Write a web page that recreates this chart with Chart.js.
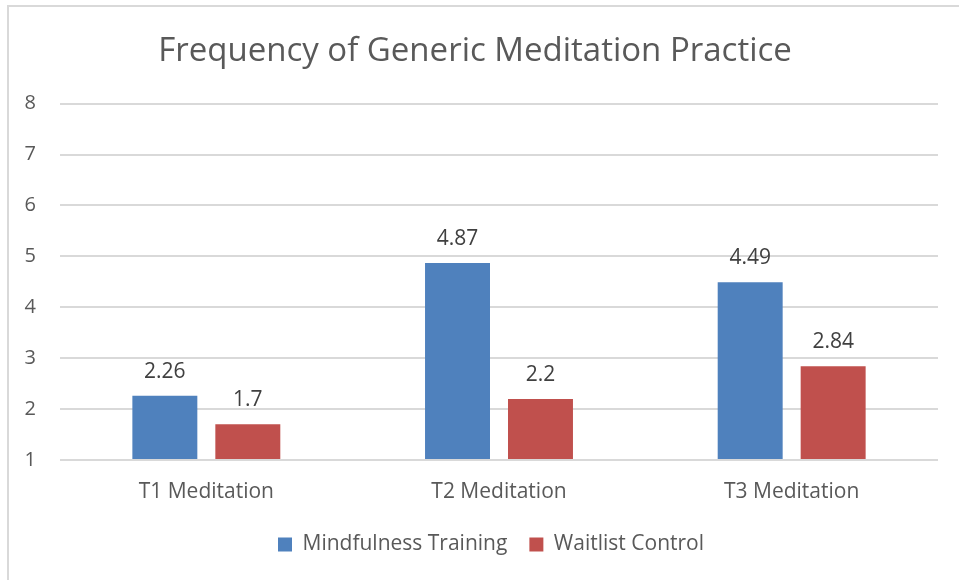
<!DOCTYPE html>
<html><head><meta charset="utf-8">
<script src="https://cdn.jsdelivr.net/npm/chart.js@4"></script>
<style>
html,body{margin:0;padding:0;background:#fff;}
#wrap{position:relative;width:959px;height:580px;overflow:hidden;}
#frame{position:absolute;left:7px;top:5px;width:960px;height:590px;border-top:2px solid #d9d9d9;border-left:2px solid #d9d9d9;box-sizing:border-box;}
canvas{position:absolute;left:0;top:0;}
</style></head>
<body><div id="wrap"><div id="frame"></div><canvas id="c" width="959" height="580"></canvas></div>
<script>
const categories = ["T1 Meditation", "T2 Meditation", "T3 Meditation"];
const mindfulness = [2.26, 4.87, 4.49];
const waitlist = [1.7, 2.2, 2.84];
const seriesNames = ["Mindfulness Training", "Waitlist Control"];
const yTicks = [1, 2, 3, 4, 5, 6, 7, 8];
const titleText = "Frequency of Generic Meditation Practice";

const FONT = "'Open Sans', 'Liberation Sans', sans-serif";
const GRAY = "#595959";

const labelPlugin = {
  id: "valueLabels",
  afterLayout(chart) {
    if (chart.legend) { chart.legend.left += 16; chart.legend.right += 16; }
  },
  afterDatasetsDraw(chart) {
    const ctx = chart.ctx;
    ctx.save();
    ctx.font = "21px " + FONT;
    ctx.fillStyle = "#404040";
    ctx.textAlign = "center";
    ctx.textBaseline = "alphabetic";
    chart.data.datasets.forEach((ds, i) => {
      chart.getDatasetMeta(i).data.forEach((bar, j) => {
        ctx.fillText(String(ds.data[j]), bar.x, bar.y - 18);
      });
    });
    ctx.restore();
  }
};

new Chart(document.getElementById("c"), {
  type: "bar",
  data: {
    labels: categories,
    datasets: [
      { label: seriesNames[0], data: mindfulness, backgroundColor: "#4f81bd", base: 1 },
      { label: seriesNames[1], data: waitlist, backgroundColor: "#c0504d", base: 1 }
    ]
  },
  options: {
    responsive: false,
    animation: false,
    devicePixelRatio: 1,
    categoryPercentage: 0.567,
    barPercentage: 0.783,
    layout: { padding: { left: 12, right: 21, top: 32, bottom: 15 } },
    plugins: {
      title: {
        display: true, text: titleText, color: GRAY,
        font: { family: FONT, size: 33, weight: "normal" },
        padding: { top: 0, bottom: 32 }
      },
      legend: {
        position: "bottom",
        labels: {
          color: GRAY, font: { family: FONT, size: 21 },
          boxWidth: 14, boxHeight: 14, padding: 22, useBorderRadius: false
        }
      },
      tooltip: { enabled: false }
    },
    scales: {
      x: {
        grid: { display: false },
        border: { display: false },
        afterFit(axis) { axis.height = 52; },
        ticks: { color: GRAY, font: { family: FONT, size: 21 }, padding: 11 }
      },
      y: {
        min: yTicks[0], max: yTicks[yTicks.length - 1],
        afterBuildTicks(axis) { axis.ticks = yTicks.map(v => ({ value: v })); },
        afterFit(axis) { axis.width = 48; },
        grid: { color: "#d9d9d9", lineWidth: 2, drawTicks: false },
        border: { display: false },
        ticks: { color: GRAY, font: { family: FONT, size: 20 }, padding: 24 }
      }
    }
  },
  plugins: [labelPlugin]
});
</script></body></html>
